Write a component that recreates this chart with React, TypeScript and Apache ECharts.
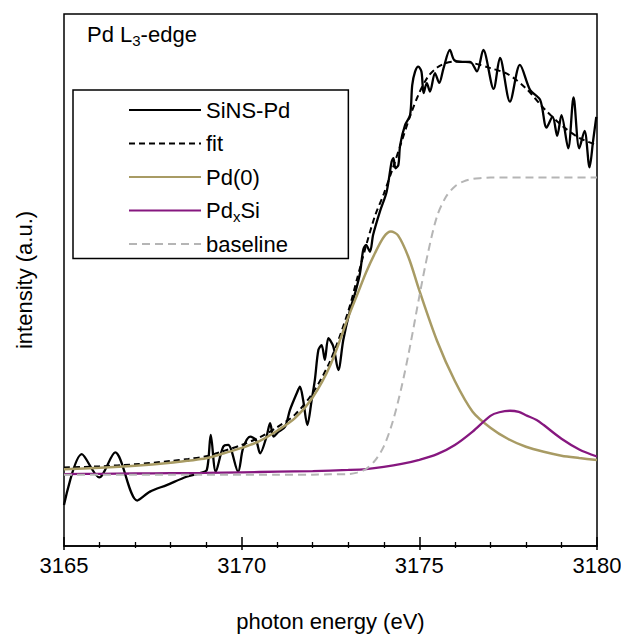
import React, { useEffect, useRef } from 'react';
import * as echarts from 'echarts';

// photon energy (eV) and normalized intensity
const sinsE = [3165.0, 3165.5, 3165.99, 3166.44, 3167.06, 3167.42, 3167.89, 3168.45, 3168.83, 3169.02, 3169.13, 3169.27, 3169.48, 3169.62, 3169.9, 3170.04, 3170.24, 3170.4, 3170.52, 3170.7, 3170.8, 3170.9, 3171.04, 3171.22, 3171.36, 3171.55, 3171.64, 3171.73, 3171.85, 3171.97, 3172.06, 3172.16, 3172.25, 3172.34, 3172.44, 3172.58, 3172.72, 3172.86, 3173.05, 3173.19, 3173.33, 3173.42, 3173.5, 3173.61, 3173.7, 3173.89, 3174.08, 3174.22, 3174.27, 3174.33, 3174.41, 3174.46, 3174.6, 3174.74, 3174.8, 3174.88, 3174.97, 3175.06, 3175.12, 3175.21, 3175.3, 3175.44, 3175.56, 3175.68, 3175.86, 3175.98, 3176.15, 3176.43, 3176.62, 3176.8, 3177.09, 3177.27, 3177.55, 3177.83, 3178.12, 3178.4, 3178.58, 3178.75, 3178.88, 3179.0, 3179.19, 3179.34, 3179.5, 3179.65, 3179.79, 3179.89, 3179.98];
const sinsI = [-0.102, 0.069, -0.009, 0.075, -0.087, -0.057, -0.035, -0.007, 0.005, 0.016, 0.134, 0.01, 0.094, 0.1, 0.01, 0.089, 0.128, 0.117, 0.072, 0.128, 0.173, 0.128, 0.145, 0.161, 0.218, 0.274, 0.296, 0.251, 0.167, 0.251, 0.319, 0.42, 0.436, 0.386, 0.459, 0.431, 0.352, 0.453, 0.554, 0.61, 0.678, 0.756, 0.773, 0.75, 0.807, 0.885, 0.952, 1.053, 1.065, 1.031, 1.042, 1.109, 1.177, 1.21, 1.311, 1.356, 1.373, 1.356, 1.284, 1.317, 1.289, 1.351, 1.318, 1.367, 1.429, 1.395, 1.389, 1.389, 1.357, 1.429, 1.298, 1.402, 1.255, 1.379, 1.294, 1.261, 1.168, 1.205, 1.14, 1.21, 1.098, 1.269, 1.098, 1.157, 1.034, 1.123, 1.204];

const fitE = [3165, 3166, 3167, 3168, 3168.5, 3169, 3169.5, 3170, 3170.5, 3171, 3171.5, 3172, 3172.5, 3173, 3173.25, 3173.5, 3173.75, 3174, 3174.25, 3174.5, 3174.75, 3175, 3175.25, 3175.5, 3175.75, 3176, 3176.5, 3177, 3177.5, 3178, 3178.5, 3179, 3179.5, 3180];
const fitI = [0.024, 0.028, 0.035, 0.046, 0.053, 0.062, 0.08, 0.1, 0.125, 0.16, 0.202, 0.275, 0.385, 0.55, 0.66, 0.77, 0.87, 0.945, 1.03, 1.12, 1.21, 1.285, 1.34, 1.37, 1.385, 1.39, 1.385, 1.368, 1.347, 1.3, 1.233, 1.176, 1.133, 1.109];

const pd0E = [3165, 3166, 3167, 3168, 3168.5, 3169, 3169.5, 3170, 3170.5, 3171, 3171.5, 3172, 3172.5, 3173, 3173.25, 3173.5, 3173.75, 3174, 3174.2, 3174.4, 3174.7, 3175, 3175.5, 3176, 3176.5, 3177, 3177.5, 3178, 3178.5, 3179, 3179.5, 3180];
const pd0I = [0.018, 0.023, 0.03, 0.04, 0.047, 0.055, 0.072, 0.09, 0.113, 0.148, 0.19, 0.26, 0.37, 0.53, 0.605, 0.68, 0.745, 0.8, 0.818, 0.805, 0.73, 0.62, 0.45, 0.315, 0.212, 0.158, 0.12, 0.094, 0.077, 0.064, 0.056, 0.049];

const pdxsiE = [3165, 3166, 3167, 3168, 3169, 3170, 3171, 3172, 3173, 3173.5, 3174, 3174.5, 3175, 3175.5, 3176, 3176.5, 3177, 3177.25, 3177.55, 3177.8, 3178, 3178.3, 3178.5, 3179, 3179.5, 3180];
const pdxsiI = [0.002, 0.003, 0.004, 0.005, 0.006, 0.008, 0.01, 0.012, 0.016, 0.019, 0.026, 0.036, 0.05, 0.069, 0.1, 0.145, 0.198, 0.21, 0.215, 0.211, 0.2, 0.184, 0.167, 0.121, 0.085, 0.061];

const baseE = [3165, 3166, 3167, 3168, 3169, 3170, 3171, 3172, 3172.5, 3173, 3173.25, 3173.5, 3173.75, 3174, 3174.25, 3174.5, 3174.75, 3175, 3175.25, 3175.5, 3175.75, 3176, 3176.25, 3176.5, 3176.75, 3177, 3178, 3179, 3180];
const baseI = [0, 0, 0, 0, 0, 0, 0, 0, 0.001, 0.002, 0.007, 0.019, 0.047, 0.095, 0.178, 0.295, 0.439, 0.6, 0.75, 0.87, 0.935, 0.97, 0.987, 0.995, 0.998, 1.0, 1.0, 1.0, 1.0];

const xTicks = { min: 3165, max: 3180, step: 5 };

const zip = (xs: number[], ys: number[]) => xs.map((x, i) => [x, ys[i]]);

const FONT = "'Liberation Sans', Arial, Helvetica, sans-serif";

export default function App() {
  const ref = useRef<HTMLDivElement>(null);
  useEffect(() => {
    if (!ref.current) return;
    const chart = echarts.init(ref.current, null, { renderer: 'svg' });
    const subRich = {
      s: { fontSize: 15, lineHeight: 15, padding: [12, 0, 0, 0], color: '#000', fontFamily: FONT },
    };
    chart.setOption({
      animation: false,
      backgroundColor: '#ffffff',
      textStyle: { fontFamily: FONT, color: '#000' },
      title: {
        text: 'Pd L{s|3}-edge',
        left: 87,
        top: 21,
        padding: 0,
        textStyle: { fontSize: 22, lineHeight: 27, fontWeight: 'normal', color: '#000', fontFamily: FONT, rich: subRich },
      },
      legend: {
        orient: 'vertical',
        left: 73,
        top: 90,
        itemWidth: 72,
        itemHeight: 14,
        itemGap: 6.5,
        padding: [6.5, 58, 1, 55],
        borderColor: '#000',
        borderWidth: 1.5,
        borderRadius: 0,
        backgroundColor: '#fff',
        itemStyle: { color: 'transparent', borderColor: 'transparent', borderWidth: 0, opacity: 0 },
        data: ['SiNS-Pd', 'fit', 'Pd(0)', 'PdxSi', 'baseline'],
        formatter: (name: string) => (name === 'PdxSi' ? 'Pd{s|x}Si' : name),
        textStyle: { fontSize: 22, lineHeight: 27, color: '#000', fontFamily: FONT, rich: subRich },
      },
      grid: {
        left: 64,
        right: 24,
        top: 14,
        bottom: 88,
        outerBoundsMode: 'none',
        containLabel: false,
        show: true,
        borderColor: '#000',
        borderWidth: 1.5,
        backgroundColor: 'transparent',
      },
      xAxis: [
        {
          type: 'value',
          min: xTicks.min,
          max: xTicks.max,
          interval: xTicks.step,
          position: 'bottom',
          name: 'photon energy (eV)',
          nameLocation: 'middle',
          nameGap: 64,
          nameTextStyle: { fontSize: 22, color: '#000', fontFamily: FONT },
          axisLine: { show: true, onZero: false, lineStyle: { color: '#000', width: 1.5 } },
          axisTick: { show: true, inside: true, length: 9, lineStyle: { color: '#000', width: 1.5 } },
          minorTick: { show: true, splitNumber: 5, length: 4, lineStyle: { color: '#000', width: 1.3 } },
          axisLabel: {
            fontSize: 22,
            color: '#000',
            margin: 8,
            fontFamily: FONT,
            hideOverlap: false,
            formatter: (v: number) => String(v),
          },
          splitLine: { show: false },
          minorSplitLine: { show: false },
        },
        {
          type: 'value',
          min: xTicks.min,
          max: xTicks.max,
          interval: xTicks.step,
          position: 'bottom',
          axisLine: { show: false, onZero: false },
          axisTick: { show: true, inside: false, length: 4, lineStyle: { color: '#000', width: 1.5 } },
          minorTick: { show: true, splitNumber: 5, length: 2, lineStyle: { color: '#000', width: 1.3 } },
          axisLabel: { show: false },
          splitLine: { show: false },
        },
      ],
      yAxis: {
        type: 'value',
        min: -0.24,
        max: 1.55,
        name: 'intensity (a.u.)',
        nameLocation: 'middle',
        nameGap: 29,
        nameTextStyle: { fontSize: 22, color: '#000', fontFamily: FONT },
        axisLine: { show: false, onZero: false },
        axisTick: { show: false },
        axisLabel: { show: false },
        splitLine: { show: false },
      },
      series: [
        {
          name: 'SiNS-Pd',
          type: 'line',
          data: zip(sinsE, sinsI),
          smooth: 0.3,
          symbol: 'none',
          lineStyle: { color: '#000', width: 2.3 },
          itemStyle: { color: '#000' },
        },
        {
          name: 'fit',
          type: 'line',
          data: zip(fitE, fitI),
          smooth: 0.3,
          symbol: 'none',
          lineStyle: { color: '#000', width: 2, type: [6, 4] },
          itemStyle: { color: '#000' },
        },
        {
          name: 'Pd(0)',
          type: 'line',
          data: zip(pd0E, pd0I),
          smooth: 0.3,
          symbol: 'none',
          lineStyle: { color: '#a89b64', width: 2.5 },
          itemStyle: { color: '#a89b64' },
        },
        {
          name: 'PdxSi',
          type: 'line',
          data: zip(pdxsiE, pdxsiI),
          smooth: 0.3,
          symbol: 'none',
          lineStyle: { color: '#86177f', width: 2.3 },
          itemStyle: { color: '#86177f' },
        },
        {
          name: 'baseline',
          type: 'line',
          data: zip(baseE, baseI),
          smooth: 0.3,
          symbol: 'none',
          lineStyle: { color: '#b5b5b5', width: 2, type: [8, 5] },
          itemStyle: { color: '#b5b5b5' },
        },
      ],
    });
    return () => chart.dispose();
  }, []);
  return <div ref={ref} style={{ position: 'absolute', left: 0, top: 0, width: 621, height: 634 }} />;
}
